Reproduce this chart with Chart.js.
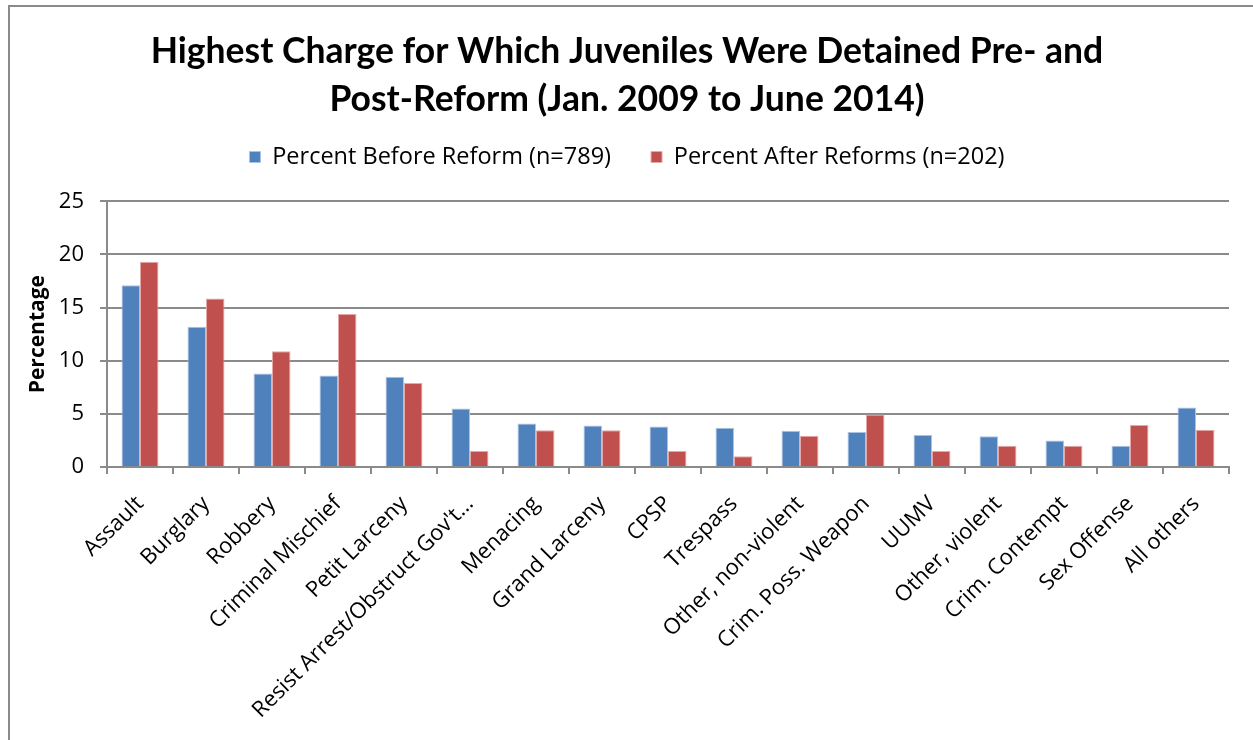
<!DOCTYPE html>
<html>
<head>
<meta charset="utf-8">
<script src="https://cdn.jsdelivr.net/npm/chart.js@4"></script>
<style>
  html, body { margin: 0; padding: 0; background: #fff; overflow: hidden; }
  #moldura { position: absolute; left: 8px; top: 5px; width: 1260px; height: 760px;
             border-left: 2px solid #8a8a8a; border-top: 2px solid #8a8a8a; }
  #caixa { position: absolute; left: 0; top: 0; width: 1253px; height: 740px; }
</style>
</head>
<body>
<div id="moldura"></div>
<div id="caixa"><canvas id="grafico"></canvas></div>
<script>
// ── Dados ──
const categorias = [
  "Assault", "Burglary", "Robbery", "Criminal Mischief", "Petit Larceny",
  "Resist Arrest/Obstruct Gov't…", "Menacing", "Grand Larceny", "CPSP", "Trespass",
  "Other, non-violent", "Crim. Poss. Weapon", "UUMV", "Other, violent",
  "Crim. Contempt", "Sex Offense", "All others"
];
const antesReforma  = [17.1, 13.2, 8.8, 8.6, 8.5, 5.5, 4.1, 3.9, 3.8, 3.7, 3.4, 3.3, 3.0, 2.9, 2.5, 2.0, 5.6];
const depoisReforma = [19.3, 15.85, 10.9, 14.4, 7.9, 1.5, 3.45, 3.45, 1.5, 1.0, 2.95, 4.95, 1.5, 2.0, 2.0, 3.95, 3.5];
const ticksY = [0, 5, 10, 15, 20, 25];

const FONTE        = "'Open Sans', 'Noto Sans', sans-serif";
const FONTE_TITULO = "Lato, 'Noto Sans', sans-serif";
const CINZA = "#8a8a8a";

// Ajusta a altura da legenda para deixar o espaço abaixo dela
const ajusteLegenda = {
  id: "ajusteLegenda",
  afterInit(chart) {
    const legenda = chart.legend;
    if (!legenda) return;
    const fitOriginal = legenda.fit;
    legenda.fit = function () {
      fitOriginal.call(this);
      this.height = 96;
    };
  }
};

const ctx = document.getElementById("grafico").getContext("2d");

new Chart(ctx, {
  type: "bar",
  data: {
    labels: categorias,
    datasets: [
      {
        label: "Percent Before Reform (n=789)",
        data: antesReforma,
        backgroundColor: "#4f81bd",
        borderColor: "#a9c3e4",
        borderWidth: 1,
      },
      {
        label: "Percent After Reforms (n=202)",
        data: depoisReforma,
        backgroundColor: "#c0504d",
        borderColor: "#e6a9a7",
        borderWidth: 1,
      }
    ]
  },
  plugins: [ajusteLegenda],
  options: {
    responsive: true,
    maintainAspectRatio: false,
    animation: false,
    categoryPercentage: 0.56,
    barPercentage: 1.0,
    layout: { padding: { left: 25, right: 24, top: 0, bottom: 0 } },
    plugins: {
      title: {
        display: true,
        text: ["Highest Charge for Which Juveniles Were Detained Pre- and",
               "Post-Reform (Jan. 2009 to June 2014)"],
        color: "#000",
        font: { family: FONTE_TITULO, size: 35.5, weight: "bold", lineHeight: 1.35 },
        padding: { top: 28, bottom: -18.6 }
      },
      legend: {
        position: "top",
        labels: {
          color: "#000",
          font: { family: FONTE, size: 23.5 },
          boxWidth: 11,
          boxHeight: 11,
          padding: 40
        }
      },
      tooltip: { enabled: false }
    },
    scales: {
      x: {
        offset: true,
        grid: {
          offset: true,
          drawOnChartArea: false,
          drawTicks: true,
          tickLength: 7,
          color: CINZA,
          lineWidth: 2
        },
        border: { color: CINZA, width: 2 },
        ticks: {
          color: "#000",
          font: { family: FONTE, size: 22 },
          minRotation: 45,
          maxRotation: 45,
          autoSkip: false,
          padding: 17
        },
        afterFit: escala => { escala.height = 273; }
      },
      y: {
        min: 0,
        max: 25,
        afterBuildTicks: escala => { escala.ticks = ticksY.map(v => ({ value: v })); },
        grid: {
          color: CINZA,
          lineWidth: 2,
          tickLength: 7
        },
        border: { color: CINZA, width: 2 },
        ticks: {
          color: "#000",
          font: { family: FONTE, size: 22 },
          padding: 16
        },
        title: {
          display: true,
          text: "Percentage",
          color: "#000",
          font: { family: FONTE, size: 21, weight: "bold" },
          padding: { top: 0, bottom: 0 }
        },
        afterFit: escala => { escala.width = 82; }
      }
    }
  }
});
</script>
</body>
</html>
